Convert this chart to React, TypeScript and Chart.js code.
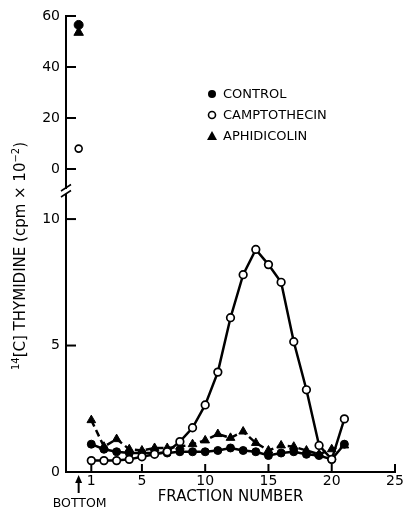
import React, { useEffect, useRef } from 'react';
import { Chart, registerables } from 'chart.js';

Chart.register(...registerables);

// ---- data ----
const fractions = [1, 2, 3, 4, 5, 6, 7, 8, 9, 10, 11, 12, 13, 14, 15, 16, 17, 18, 19, 20, 21];
const control = [1.1, 0.9, 0.8, 0.75, 0.75, 0.75, 0.75, 0.8, 0.8, 0.8, 0.85, 0.95, 0.85, 0.8, 0.65, 0.75, 0.8, 0.7, 0.65, 0.5, 1.1];
const camptothecin = [0.45, 0.45, 0.45, 0.5, 0.6, 0.7, 0.8, 1.2, 1.75, 2.65, 3.95, 6.1, 7.8, 8.8, 8.2, 7.5, 5.15, 3.25, 1.05, 0.5, 2.1];
const aphidicolin = [2.05, 1.0, 1.3, 0.9, 0.85, 0.95, 0.95, 1.0, 1.1, 1.25, 1.5, 1.35, 1.6, 1.15, 0.85, 1.05, 1.0, 0.85, 0.7, 0.9, 1.05];

const pelletFraction = 0;
const pelletControl = 56.5;
const pelletCamptothecin = 8;
const pelletAphidicolin = 53.5;

const xTicks = [1, 5, 10, 15, 20, 25];
const yTopTicks = [0, 20, 40, 60];
const yBottomTicks = [0, 5, 10];
const seriesNames = ['CONTROL', 'CAMPTOTHECIN', 'APHIDICOLIN'];
const xTitle = 'FRACTION NUMBER';
const bottomLabel = 'BOTTOM';

const FONT = 'DejaVu Sans';

const overlayPlugin = {
  id: 'overlay',
  afterDraw(chart: any) {
    const ctx = chart.ctx as CanvasRenderingContext2D;
    const { left, bottom } = chart.chartArea;
    const sx = chart.scales.x;
    const sy = chart.scales.y;
    const syTop = chart.scales.yTop;
    ctx.save();
    ctx.strokeStyle = '#000';
    ctx.fillStyle = '#000';
    ctx.lineWidth = 2;
    const line = (x1: number, y1: number, x2: number, y2: number) => {
      ctx.beginPath();
      ctx.moveTo(x1, y1);
      ctx.lineTo(x2, y2);
      ctx.stroke();
    };
    // inward ticks
    for (const v of xTicks) {
      const px = sx.getPixelForValue(v);
      line(px, bottom, px, bottom - 8);
    }
    for (const s of [sy, syTop]) {
      for (const t of s.ticks) {
        const py = s.getPixelForValue(t.value);
        line(left, py, left + 10, py);
      }
    }
    // axis break
    const by = sy.top;
    ctx.fillStyle = '#fff';
    ctx.fillRect(left - 3, by - 2.5, 6, 5);
    ctx.fillStyle = '#000';
    ctx.lineWidth = 1.5;
    line(left - 5, by - 0.5, left + 5, by - 7);
    line(left - 5, by + 5.5, left + 5, by - 1);

    // legend
    const lx = 212;
    const rows = [94, 115, 136];
    ctx.font = `13px "${FONT}"`;
    ctx.textBaseline = 'middle';
    ctx.textAlign = 'left';
    // filled circle
    ctx.beginPath();
    ctx.arc(lx, rows[0], 4, 0, Math.PI * 2);
    ctx.fill();
    // open circle
    ctx.lineWidth = 1.6;
    ctx.beginPath();
    ctx.arc(lx, rows[1], 3.5, 0, Math.PI * 2);
    ctx.fillStyle = '#fff';
    ctx.fill();
    ctx.stroke();
    ctx.fillStyle = '#000';
    // triangle
    ctx.beginPath();
    ctx.moveTo(lx, rows[2] - 5);
    ctx.lineTo(lx + 5, rows[2] + 4);
    ctx.lineTo(lx - 5, rows[2] + 4);
    ctx.closePath();
    ctx.fill();
    seriesNames.forEach((n, i) => ctx.fillText(n, lx + 11, rows[i] + 0.5));

    // BOTTOM arrow and label
    const ax = sx.getPixelForValue(pelletFraction);
    ctx.lineWidth = 2;
    line(ax, bottom + 21, ax, bottom + 9);
    ctx.beginPath();
    ctx.moveTo(ax, bottom + 3);
    ctx.lineTo(ax + 3.5, bottom + 11);
    ctx.lineTo(ax - 3.5, bottom + 11);
    ctx.closePath();
    ctx.fill();
    ctx.font = `12.5px "${FONT}"`;
    ctx.textAlign = 'center';
    ctx.fillText(bottomLabel, ax + 1, 503.5);

    // y axis title with superscripts
    ctx.translate(21, 256);
    ctx.rotate(-Math.PI / 2);
    const parts = [
      { t: '14', sup: true },
      { t: '[C] THYMIDINE (cpm \u00d7 10', sup: false },
      { t: '\u22122', sup: true },
      { t: ')', sup: false },
    ];
    const normal = `15px "${FONT}"`;
    const small = `10px "${FONT}"`;
    let total = 0;
    for (const p of parts) {
      ctx.font = p.sup ? small : normal;
      total += ctx.measureText(p.t).width;
    }
    let cx = -total / 2;
    ctx.textAlign = 'left';
    for (const p of parts) {
      ctx.font = p.sup ? small : normal;
      ctx.fillText(p.t, cx, p.sup ? -5 : 0);
      cx += ctx.measureText(p.t).width;
    }
    ctx.restore();
  },
};

export default function App() {
  const ref = useRef<HTMLCanvasElement | null>(null);
  useEffect(() => {
    if (!ref.current) return;
    const pts = (arr: number[]) => arr.map((v, i) => ({ x: fractions[i], y: v }));
    const tickFont = { family: FONT, size: 14 };
    const chart = new Chart(ref.current, {
      type: 'line',
      data: {
        datasets: [
          {
            label: seriesNames[1],
            data: pts(camptothecin),
            yAxisID: 'y',
            borderColor: '#000',
            borderWidth: 2.5,
            pointStyle: 'circle',
            pointRadius: 3.8,
            pointBackgroundColor: '#fff',
            pointBorderColor: '#000',
            pointBorderWidth: 1.7,
            tension: 0,
          },
          {
            label: seriesNames[0],
            data: pts(control),
            yAxisID: 'y',
            borderColor: '#000',
            borderWidth: 2.5,
            pointStyle: 'circle',
            pointRadius: 4,
            pointBackgroundColor: '#000',
            pointBorderColor: '#000',
            pointBorderWidth: 1,
            tension: 0,
          },
          {
            label: seriesNames[2],
            data: pts(aphidicolin),
            yAxisID: 'y',
            borderColor: '#000',
            borderWidth: 2.5,
            borderDash: [7, 4],
            pointStyle: 'triangle',
            pointRadius: 5,
            pointBackgroundColor: '#000',
            pointBorderColor: '#000',
            pointBorderWidth: 1,
            tension: 0,
          },
          {
            label: seriesNames[0] + ' pellet',
            data: [{ x: pelletFraction, y: pelletControl }],
            yAxisID: 'yTop',
            showLine: false,
            pointStyle: 'circle',
            pointRadius: 4.5,
            pointBackgroundColor: '#000',
            pointBorderColor: '#000',
          },
          {
            label: seriesNames[1] + ' pellet',
            data: [{ x: pelletFraction, y: pelletCamptothecin }],
            yAxisID: 'yTop',
            showLine: false,
            pointStyle: 'circle',
            pointRadius: 3.5,
            pointBackgroundColor: '#fff',
            pointBorderColor: '#000',
            pointBorderWidth: 1.6,
          },
          {
            label: seriesNames[2] + ' pellet',
            data: [{ x: pelletFraction, y: pelletAphidicolin }],
            yAxisID: 'yTop',
            showLine: false,
            pointStyle: 'triangle',
            pointRadius: 5.5,
            pointBackgroundColor: '#000',
            pointBorderColor: '#000',
          },
        ],
      },
      options: {
        responsive: false,
        animation: false,
        layout: { padding: { top: 16, right: 11, left: 0, bottom: 0 } },
        plugins: { legend: { display: false }, tooltip: { enabled: false } },
        scales: {
          x: {
            type: 'linear',
            min: -1,
            max: 25,
            afterBuildTicks: (s: any) => {
              s.ticks = xTicks.map((v) => ({ value: v }));
            },
            afterFit: (s: any) => {
              s.height = 42;
            },
            grid: { display: false, drawTicks: false },
            border: { display: true, color: '#000', width: 2 },
            ticks: { color: '#000', font: tickFont, padding: 1, maxRotation: 0, autoSkip: false },
            title: {
              display: true,
              text: xTitle,
              color: '#000',
              font: { family: FONT, size: 15 },
              padding: { top: 0, bottom: 8 },
            },
          },
          y: {
            type: 'linear',
            position: 'left',
            stack: 'yy',
            stackWeight: 280.5,
            min: 0,
            max: 11.09,
            afterBuildTicks: (s: any) => {
              s.ticks = yBottomTicks.map((v) => ({ value: v }));
            },
            afterFit: (s: any) => {
              s.width = 66;
            },
            grid: { display: false, drawTicks: false },
            border: { display: true, color: '#000', width: 2 },
            ticks: { color: '#000', font: tickFont, padding: 6 },
          },
          yTop: {
            type: 'linear',
            position: 'left',
            stack: 'yy',
            stackWeight: 175.5,
            min: -8.82,
            max: 60,
            afterBuildTicks: (s: any) => {
              s.ticks = yTopTicks.map((v) => ({ value: v }));
            },
            afterFit: (s: any) => {
              s.width = 66;
            },
            grid: { display: false, drawTicks: false },
            border: { display: true, color: '#000', width: 2 },
            ticks: { color: '#000', font: tickFont, padding: 6 },
          },
        },
      } as any,
      plugins: [overlayPlugin],
    });
    return () => chart.destroy();
  }, []);
  return (
    <div style={{ position: 'fixed', left: 0, top: 0, width: 406, height: 514, background: '#fff' }}>
      <canvas ref={ref} width={406} height={514} style={{ display: 'block' }} />
    </div>
  );
}
